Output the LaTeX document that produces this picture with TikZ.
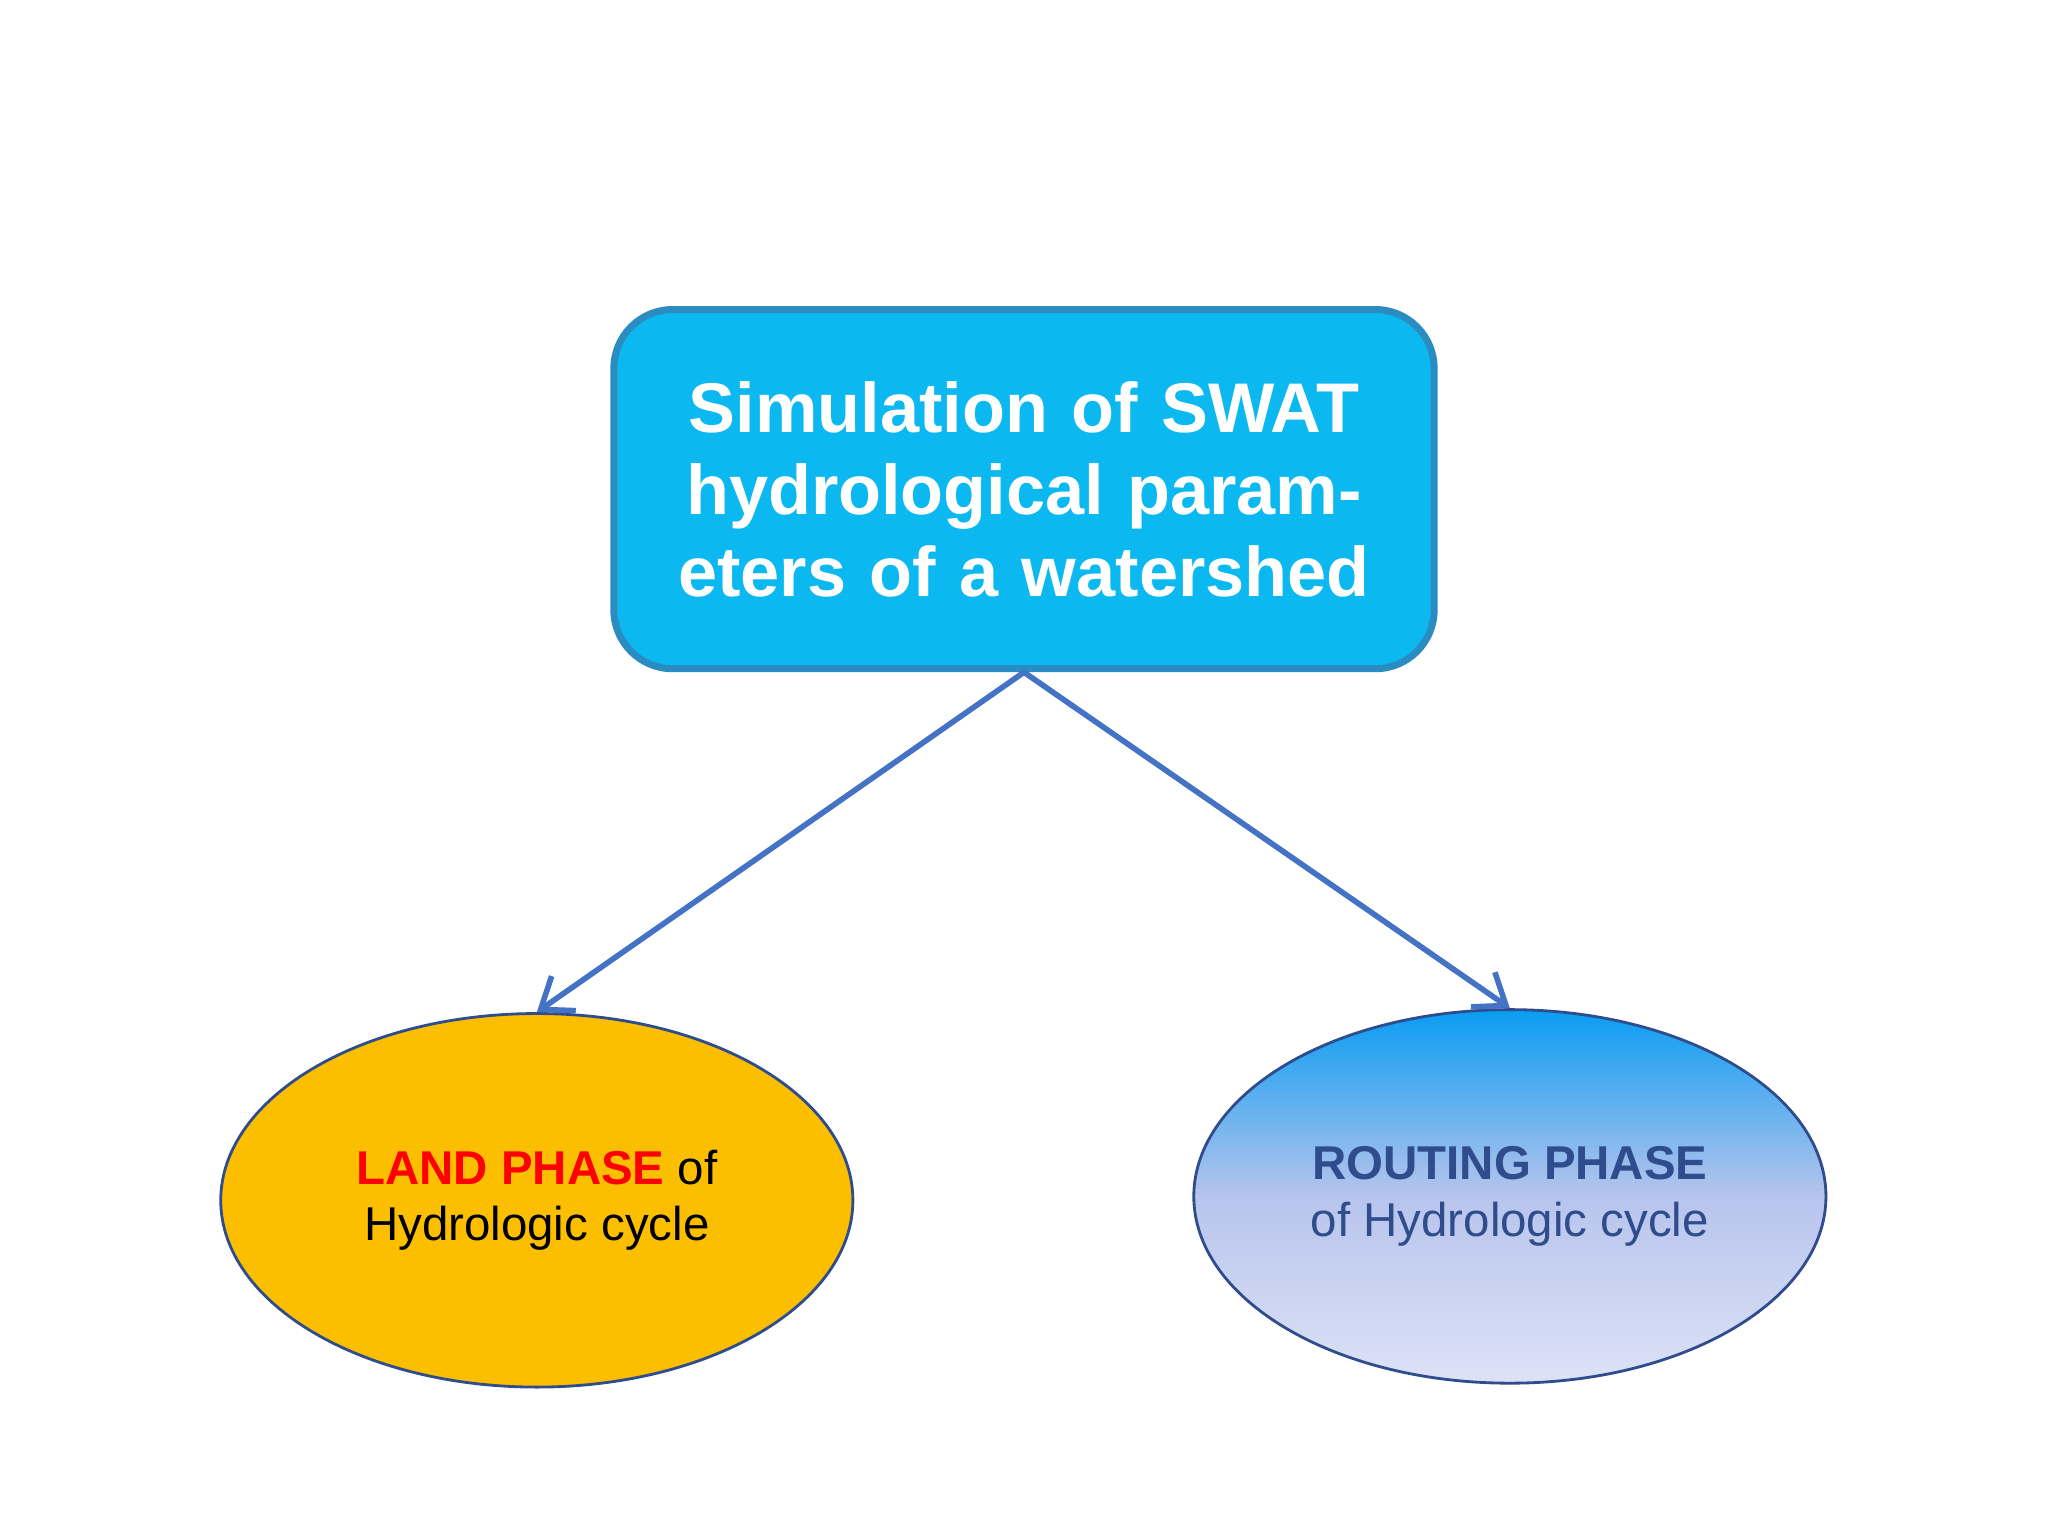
\documentclass[tikz,border=0pt]{standalone}
\usepackage{fontspec}
\setmainfont{Liberation Sans}
\usetikzlibrary{arrows.meta,shapes.geometric}
\definecolor{boxfill}{HTML}{0BB8F0}
\definecolor{boxdraw}{HTML}{2A8CC0}
\definecolor{edge}{HTML}{2F4C8C}
\definecolor{arr}{HTML}{4472C4}
\definecolor{land}{HTML}{FBBF00}
\newlength{\pxu}\setlength{\pxu}{0.013061cm}
\tikzset{
  ell/.style={ellipse, draw=edge, line width=0.8pt, minimum width=484\pxu, minimum height=286\pxu, align=center, font=\fontsize{13.5}{16}\selectfont},
  conn/.style={draw=arr, line width=1.6pt, -{Straight Barb[length=8pt,width=12pt,line width=1.6pt]}}
}
\begin{document}
\begin{tikzpicture}[x=0.013061cm,y=-0.013061cm]
\useasboundingbox (0,0) rectangle (1568,1176);
\node[draw=boxdraw, line width=2pt, fill=boxfill, rounded corners=45\pxu, minimum width=628\pxu, minimum height=275\pxu, text width=560\pxu, align=center, text=white, font=\bfseries\fontsize{20}{23.3}\selectfont, inner sep=0pt] (top) at (784,374.5) {Simulation of SWAT hydrological parameters of a watershed};
\node[ell, fill=land] (land) at (411,919) {\textcolor{red}{\textbf{LAND PHASE}} of\\Hydrologic cycle};
\node[ell, top color=boxfill!85!blue, bottom color={rgb,255:red,221;green,226;blue,246}, middle color={rgb,255:red,183;green,196;blue,236}, text=edge] (route) at (1156,916) {\textbf{ROUTING PHASE}\\of Hydrologic cycle};
\draw[conn] (top.south) -- (land.north);
\draw[conn] (top.south) -- (route.north);
\end{tikzpicture}
\end{document}
